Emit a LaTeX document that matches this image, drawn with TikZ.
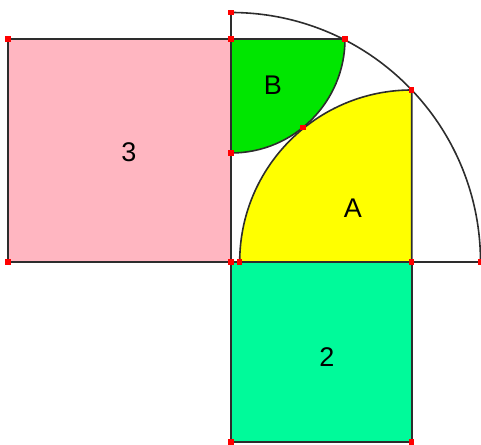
\documentclass[tikz,border=0pt]{standalone}
\usepackage{fontspec}
\setmainfont{Liberation Sans}
\definecolor{pinkc}{RGB}{255,182,193}
\definecolor{mintc}{RGB}{0,250,154}
\definecolor{greenc}{RGB}{0,230,0}
\definecolor{yellowc}{RGB}{255,255,0}
\definecolor{linec}{RGB}{45,45,45}
\begin{document}
\begin{tikzpicture}[x=1pt,y=1pt,
  edge/.style={draw=linec, line width=1.6pt},
  dot/.style={fill=red, rectangle, minimum size=5.5pt, inner sep=0pt, draw=none},
  lbl/.style={font=\fontsize{27}{27}\selectfont, text=black}]
\useasboundingbox (-231,-182) rectangle (250,262);
% coordinates
\coordinate (O) at (0,0);
\coordinate (S3a) at (-223,0);
\coordinate (S3b) at (-223,223);
\coordinate (S3c) at (0,223);
\coordinate (Top) at (0,249.5);
\coordinate (Right) at (249.5,0);
\coordinate (Bend) at (114,223);
\coordinate (Bbot) at (0,109);
\coordinate (Ystart) at (8.7,0);
\coordinate (Ycorner) at (180.7,172);
\coordinate (Yfoot) at (180.7,0);
\coordinate (T) at (71.8,134.4);
\coordinate (S2a) at (0,-180);
\coordinate (S2b) at (180.7,-180);
% fills
\fill[pinkc] (S3a) rectangle (S3c);
\fill[mintc] (S2a) rectangle (Yfoot);
\fill[yellowc] (Ystart) arc[start angle=180, end angle=90, radius=172] -- (Yfoot) -- cycle;
\fill[greenc] (S3c) -- (Bend) arc[start angle=0, end angle=-90, radius=114] -- cycle;
% outlines
\draw[edge] (S3a) rectangle (S3c);
\draw[edge] (S2a) rectangle (Yfoot);
\draw[edge] (Top) -- (O) -- (Right);
\draw[edge] (Top) arc[start angle=90, end angle=0, radius=249.5];
\draw[edge] (Ystart) arc[start angle=180, end angle=90, radius=172] -- (Yfoot);
\draw[edge] (S3c) -- (Bend) arc[start angle=0, end angle=-90, radius=114];
% dots
\foreach \p in {O,S3a,S3b,S3c,Top,Right,Bend,Bbot,Ystart,Ycorner,Yfoot,T,S2a,S2b}
  \node[dot] (d\p) at (\p) {};
% labels
\node[lbl] (l3) at (-102,110) {3};
\node[lbl] (lB) at (42,177) {B};
\node[lbl] (lA) at (122,54) {A};
\node[lbl] (l2) at (96,-95) {2};
\end{tikzpicture}
\end{document}
